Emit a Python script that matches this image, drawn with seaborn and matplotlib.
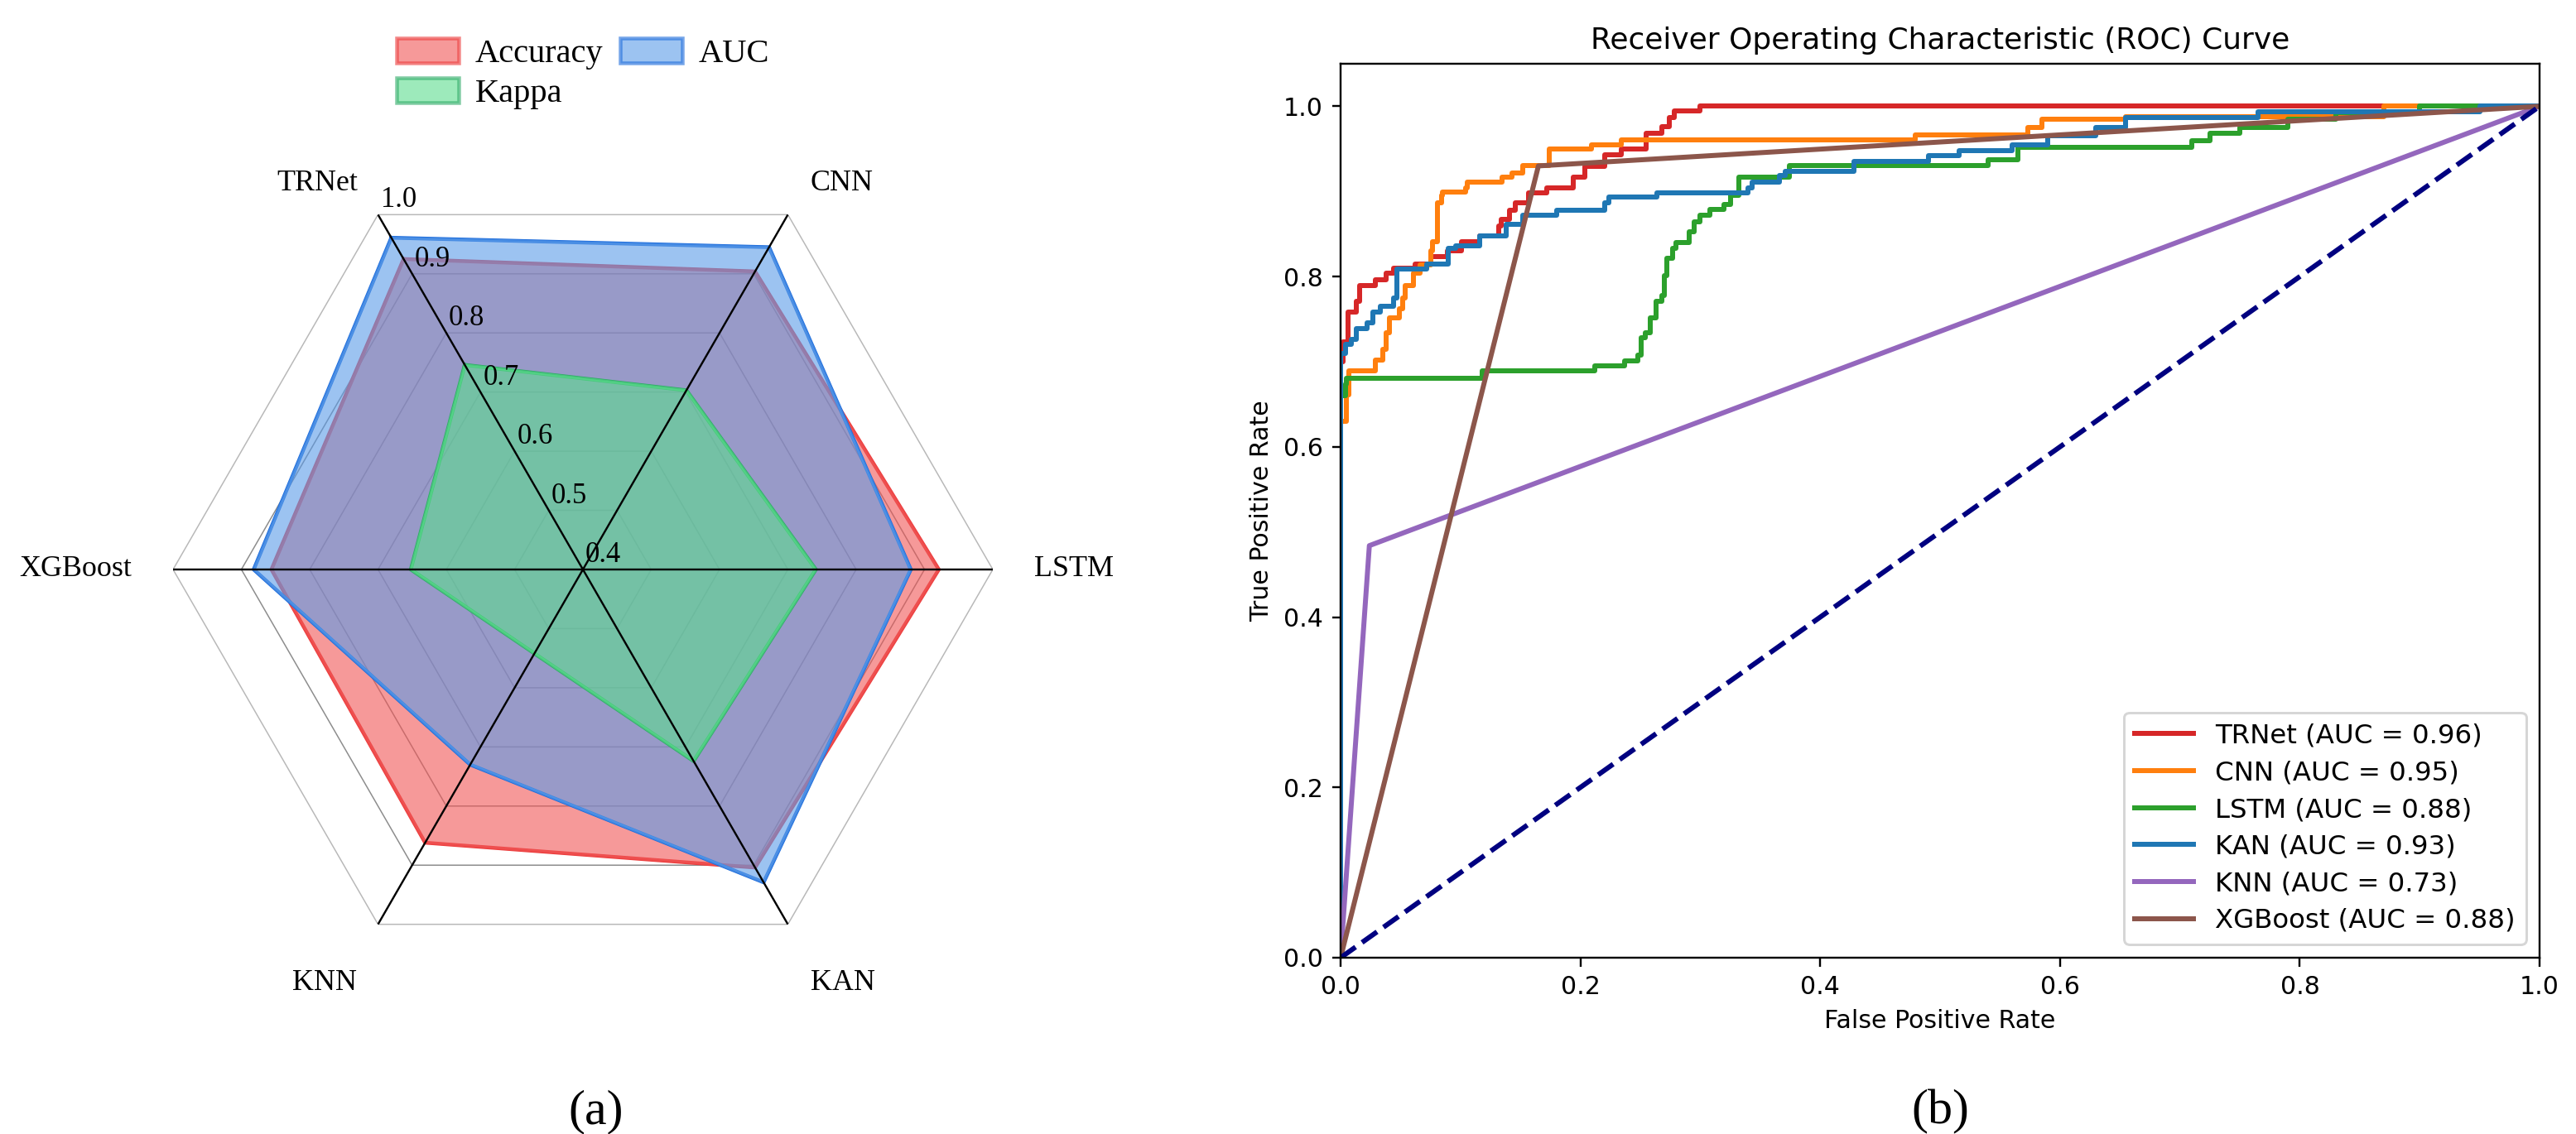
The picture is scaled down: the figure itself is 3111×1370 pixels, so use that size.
import numpy as np
import pandas as pd
import seaborn as sns
import matplotlib.pyplot as plt
from matplotlib.patches import Patch

W, H, DPI = 3111, 1370, 216
SERIF = 'Liberation Serif'

# ---- radar chart data (panel a) ----
models = ['TRNet', 'CNN', 'LSTM', 'KAN', 'KNN', 'XGBoost']
accuracy = [0.925, 0.904, 0.921, 0.904, 0.862, 0.856]
auc_vals = [0.961, 0.945, 0.880, 0.929, 0.730, 0.882]
kappa = [0.746, 0.703, 0.741, 0.724, 0.542, 0.652]
r_levels = [0.4, 0.5, 0.6, 0.7, 0.8, 0.9, 1.0]

# ---- ROC data (panel b), step corners ----
auc_scores = [0.96, 0.95, 0.88, 0.93, 0.73, 0.88]

fpr_trnet = [0, 0, 0.002, 0.006, 0.013, 0.016, 0.029, 0.038, 0.044, 0.062, 0.075, 0.089,
             0.101, 0.116, 0.132, 0.134, 0.141, 0.146, 0.157, 0.172, 0.194, 0.204, 0.220,
             0.234, 0.255, 0.268, 0.274, 0.278, 0.300, 1.0]
tpr_trnet = [0, 0.700, 0.723, 0.758, 0.771, 0.789, 0.796, 0.804, 0.810, 0.815, 0.823, 0.830,
             0.841, 0.848, 0.859, 0.867, 0.878, 0.887, 0.898, 0.904, 0.917, 0.929, 0.943,
             0.950, 0.968, 0.976, 0.987, 0.995, 1.0, 1.0]

fpr_cnn = [0, 0, 0.005, 0.007, 0.029, 0.035, 0.038, 0.041, 0.049, 0.052, 0.054, 0.061, 0.066,
           0.075, 0.077, 0.081, 0.084, 0.085, 0.104, 0.106, 0.135, 0.143, 0.152, 0.174, 0.209,
           0.234, 0.479, 0.573, 0.585, 0.655, 0.870, 1.0]
tpr_cnn = [0, 0.630, 0.661, 0.689, 0.702, 0.715, 0.734, 0.752, 0.762, 0.775, 0.789, 0.804, 0.814,
           0.830, 0.841, 0.887, 0.895, 0.899, 0.904, 0.911, 0.917, 0.922, 0.930, 0.950, 0.955,
           0.961, 0.966, 0.975, 0.985, 0.988, 1.0, 1.0]

fpr_lstm = [0, 0, 0.004, 0.005, 0.118, 0.212, 0.237, 0.248, 0.251, 0.254, 0.258, 0.263, 0.268,
            0.270, 0.272, 0.277, 0.280, 0.291, 0.295, 0.300, 0.308, 0.320, 0.325, 0.332, 0.374,
            0.540, 0.565, 0.710, 0.725, 0.750, 0.790, 0.830, 0.900, 1.0]
tpr_lstm = [0, 0.660, 0.674, 0.681, 0.689, 0.695, 0.701, 0.708, 0.728, 0.734, 0.752, 0.771, 0.778,
            0.801, 0.822, 0.833, 0.840, 0.853, 0.864, 0.872, 0.879, 0.885, 0.895, 0.917, 0.930,
            0.937, 0.952, 0.960, 0.968, 0.975, 0.985, 0.993, 1.0, 1.0]

fpr_kan = [0, 0, 0.004, 0.009, 0.013, 0.022, 0.027, 0.033, 0.044, 0.047, 0.072, 0.090, 0.096,
           0.116, 0.138, 0.152, 0.180, 0.220, 0.224, 0.264, 0.340, 0.343, 0.366, 0.371, 0.428,
           0.490, 0.516, 0.560, 0.590, 0.630, 0.655, 0.765, 0.950, 1.0]
tpr_kan = [0, 0.710, 0.720, 0.726, 0.739, 0.746, 0.758, 0.765, 0.775, 0.809, 0.815, 0.833, 0.836,
           0.848, 0.861, 0.872, 0.878, 0.887, 0.893, 0.898, 0.904, 0.911, 0.919, 0.924, 0.935,
           0.942, 0.948, 0.955, 0.965, 0.975, 0.987, 0.994, 1.0, 1.0]

fpr_knn = [0, 0.024, 1.0]
tpr_knn = [0, 0.484, 1.0]
fpr_xgb = [0, 0.165, 1.0]
tpr_xgb = [0, 0.930, 1.0]

roc_colors = ['tab:red', 'tab:orange', 'tab:green', 'tab:blue', 'tab:purple', 'tab:brown']


def px_box(left, top, width, height):
    return [left / W, 1 - (top + height) / H, width / W, height / H]


fig = plt.figure(figsize=(W / DPI, H / DPI), dpi=DPI)

# ================= (a) radar chart =================
ax1 = fig.add_axes(px_box(209, 193, 990, 990), projection='polar')
ax1.set_theta_offset(np.deg2rad(120))
ax1.set_theta_direction(-1)
ax1.set_ylim(0.4, 1.0)
ax1.grid(False)
ax1.set_xticks([])
ax1.set_yticks([])
ax1.spines['polar'].set_visible(False)

theta = np.deg2rad(np.arange(len(models)) * 60.0)
closed = np.append(theta, theta[0])

# hexagon grid
for lv in r_levels[1:]:
    col = '#b8b8b8' if lv == 1.0 else '#8c8c8c'
    ax1.plot(closed, [lv] * len(closed), color=col, lw=0.5, zorder=1)

series = [
    ('Accuracy', accuracy, '#F05656', '#EC3A3A'),
    ('AUC', auc_vals, '#5A9BE8', '#1C6BDB'),
    ('Kappa', kappa, '#5CDC8E', '#2EAA66'),
]
for name, vals, fc, ec in series:
    v = np.append(vals, vals[0])
    ax1.plot(closed, v, color=ec, lw=1.5, zorder=2)
    ax1.fill(closed, v, color=fc, alpha=0.6, zorder=2)

# spokes
for t in theta:
    ax1.plot([t, t], [0.4, 1.0], color='black', lw=0.8, zorder=4)

# radial labels along the TRNet spoke
for lv in r_levels:
    ax1.annotate(f'{lv:.1f}', xy=(theta[0], lv), xytext=(1, 3), textcoords='offset points',
                 ha='left', va='baseline', fontsize=11.5, family=SERIF, zorder=5)

# category labels (offsets in px from the centre)
label_pos = {'TRNet': (-321, 466), 'CNN': (312, 466), 'LSTM': (545, 0),
             'KAN': (314, -500), 'KNN': (-312, -500), 'XGBoost': (-545, 0)}
for m in models:
    dx, dy = label_pos[m]
    ha = 'left' if m == 'LSTM' else ('right' if m == 'XGBoost' else 'center')
    ax1.text(0.5 + dx / 990, 0.5 + dy / 990, m, transform=ax1.transAxes, ha=ha, va='center',
             fontsize=12, family=SERIF)

handles = [Patch(facecolor=fc, edgecolor=ec, alpha=0.6, lw=1.5, label=name)
           for name, _, fc, ec in series]
handles = [handles[0], handles[2], handles[1]]
fig.legend(handles=handles, loc='center', bbox_to_anchor=(704 / W, 1 - 89 / H), ncol=2,
           frameon=False, prop={'family': SERIF, 'size': 13.5}, handlelength=1.85,
           handleheight=0.75, handletextpad=0.5, columnspacing=0.5, labelspacing=0.25)

fig.text(720 / W, 1 - 1343 / H, '(a)', ha='center', va='center', fontsize=20, family=SERIF)

# ================= (b) ROC curves =================
ax2 = fig.add_axes(px_box(1619, 77, 1448, 1080))

labels = [f'{m} (AUC = {a:.2f})' for m, a in zip(models, auc_scores)]
palette = dict(zip(labels, roc_colors))

step_df = pd.concat([
    pd.DataFrame({'model': labels[0], 'fpr': fpr_trnet, 'tpr': tpr_trnet}),
    pd.DataFrame({'model': labels[1], 'fpr': fpr_cnn, 'tpr': tpr_cnn}),
    pd.DataFrame({'model': labels[2], 'fpr': fpr_lstm, 'tpr': tpr_lstm}),
    pd.DataFrame({'model': labels[3], 'fpr': fpr_kan, 'tpr': tpr_kan}),
], ignore_index=True)
line_df = pd.concat([
    pd.DataFrame({'model': labels[4], 'fpr': fpr_knn, 'tpr': tpr_knn}),
    pd.DataFrame({'model': labels[5], 'fpr': fpr_xgb, 'tpr': tpr_xgb}),
], ignore_index=True)

sns.lineplot(data=step_df, x='fpr', y='tpr', hue='model', hue_order=labels[:4], palette=palette,
             sort=False, estimator=None, drawstyle='steps-post', lw=2, legend=False, ax=ax2)
sns.lineplot(data=line_df, x='fpr', y='tpr', hue='model', hue_order=labels[4:], palette=palette,
             sort=False, estimator=None, lw=2, legend=False, ax=ax2)
roc_lines = list(ax2.lines[:6])
ax2.plot([0, 1], [0, 1], color='navy', lw=2, linestyle='--')

ax2.set_xlim(0.0, 1.0)
ax2.set_ylim(0.0, 1.05)
ax2.set_xlabel('False Positive Rate')
ax2.set_ylabel('True Positive Rate')
ax2.set_title('Receiver Operating Characteristic (ROC) Curve')
ax2.legend(roc_lines, labels, loc='lower right', fontsize=10.8, labelspacing=0.42,
           handlelength=2.2)

fig.text(2343 / W, 1 - 1343 / H, '(b)', ha='center', va='center', fontsize=20, family=SERIF)

fig.savefig('out.png', dpi=DPI)
